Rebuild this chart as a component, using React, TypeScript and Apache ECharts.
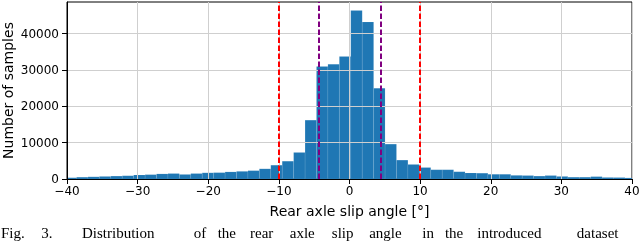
import React, { useEffect, useRef } from "react";
import * as echarts from "echarts";

// Histogram bins (left edge of the first bin and the bin width, in degrees)
const binStart = -40.27;
const binWidth = 1.618;
// Counts per bin, left to right
const counts = [
  350, 500, 600, 700, 800, 900, 1100, 1200, 1400, 1500,
  1250, 1500, 1700, 1750, 1950, 2100, 2300, 2800, 3800, 4900,
  7300, 16200, 31000, 31600, 33700, 46400, 43200, 25000, 9600, 5200,
  4000, 3150, 2550, 2550, 2000, 1650, 1600, 1300, 1300, 1000,
  950, 800, 950, 700, 500, 500, 650, 420, 400, 300,
];
const xTicks = [-40, -30, -20, -10, 0, 10, 20, 30, 40];
const yTicks = [0, 10000, 20000, 30000, 40000];
const yMax = 48720;
const redLines = [-10, 10];
const purpleLines = [-4.4, 4.4];
const xLabel = "Rear axle slip angle [°]";
const yLabel = "Number of samples";
const captionHead = ["Fig.", "3."];
const captionBody = ["Distribution", "of", "the", "rear", "axle", "slip", "angle", "in", "the", "introduced", "dataset"];

function captionGraphics() {
  const ctx = document.createElement("canvas").getContext("2d")!;
  ctx.font = "22px 'Liberation Serif'";
  const space = ctx.measureText(" ").width;
  const items: any[] = [];
  const place = (words: string[], start: number) => {
    let x = start;
    for (const w of words) {
      items.push({
        type: "text",
        x,
        y: 225,
        style: { text: w, fontFamily: "Liberation Serif", fontSize: 15, fill: "#000" },
      });
      x += ctx.measureText(w).width + space;
    }
  };
  place(captionHead, 1);
  place(captionBody, 82);
  return items;
}

export default function App() {
  const ref = useRef<HTMLDivElement>(null);
  useEffect(() => {
    document.body.style.margin = "0";
    const chart = echarts.init(ref.current!, null, { renderer: "svg" });
    const data = counts.map((c, i) => [binStart + i * binWidth, binStart + (i + 1) * binWidth, c]);
    const font = "DejaVu Sans";
    const vline = (vals: number[], color: string) => ({
      type: "line",
      data: [],
      z: 5,
      markLine: {
        silent: true,
        symbol: "none",
        label: { show: false },
        lineStyle: { color, width: 2, type: [5.5, 2.5], opacity: 1 },
        data: vals.map((v) => ({ xAxis: v })),
        animation: false,
      },
    });
    chart.setOption({
      animation: false,
      grid: {
        left: 67,
        right: 8,
        top: 2,
        bottom: 62,
        containLabel: false,
        outerBoundsMode: "none",
        show: true,
        borderColor: "#000",
        borderWidth: 1,
      },
      xAxis: {
        type: "value",
        min: -40,
        max: 40,
        interval: 10,
        z: 3,
        name: xLabel,
        nameLocation: "middle",
        nameGap: 25,
        nameMoveOverlap: false,
        nameTextStyle: { fontFamily: font, fontSize: 14, color: "#000", verticalAlign: "top" },
        axisLine: { show: true, onZero: false, lineStyle: { color: "#000", width: 1 } },
        axisTick: { show: true, length: 5, lineStyle: { color: "#000" } },
        axisLabel: {
          fontFamily: font,
          fontSize: 12,
          color: "#000",
          margin: 6,
          formatter: (v: number) => (xTicks.includes(v) ? (v < 0 ? "\u2212" + Math.abs(v) : String(v)) : ""),
        },
        splitLine: { show: true, lineStyle: { color: "#cfcfcf", width: 1 } },
      },
      yAxis: {
        type: "value",
        min: 0,
        max: yMax,
        z: 3,
        name: yLabel,
        nameLocation: "middle",
        nameGap: 52,
        nameMoveOverlap: false,
        nameTextStyle: { fontFamily: font, fontSize: 14, color: "#000" },
        axisLine: { show: true, onZero: false, lineStyle: { color: "#000", width: 1 } },
        axisTick: { show: true, length: 5, lineStyle: { color: "#000" }, customValues: yTicks },
        axisLabel: {
          fontFamily: font,
          fontSize: 12,
          color: "#000",
          margin: 8,
          customValues: yTicks,
          formatter: (v: number) => String(v),
        },
        splitLine: { show: true, lineStyle: { color: "#cfcfcf", width: 1 } },
      },
      series: [
        {
          type: "custom",
          z: 2,
          encode: { x: [0, 1], y: 2 },
          data,
          renderItem: (params: any, api: any) => {
            const p0 = api.coord([api.value(0), api.value(2)]);
            const p1 = api.coord([api.value(1), 0]);
            const cs = params.coordSys;
            const rect = echarts.graphic.clipRectByRect(
              { x: p0[0], y: p0[1], width: p1[0] - p0[0], height: p1[1] - p0[1] },
              { x: cs.x, y: cs.y, width: cs.width, height: cs.height }
            );
            if (!rect) return null;
            return {
              type: "rect",
              shape: rect,
              style: { fill: "#1f77b4", stroke: "rgba(255,255,255,0.15)", lineWidth: 0.5 },
            };
          },
        },
        vline(redLines, "#ff0000"),
        vline(purpleLines, "#800080"),
      ],
      graphic: captionGraphics(),
    });
    return () => chart.dispose();
  }, []);
  return <div ref={ref} style={{ position: "fixed", left: 0, top: 0, width: 640, height: 241 }} />;
}
